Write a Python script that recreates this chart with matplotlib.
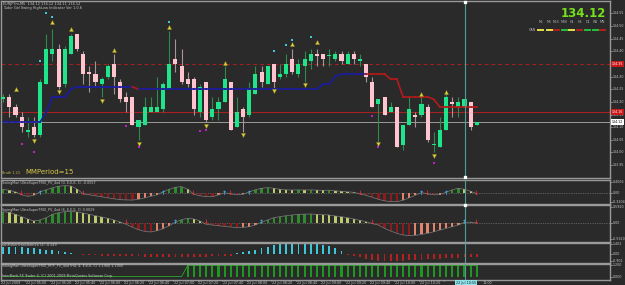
import matplotlib
matplotlib.use('Agg')
import matplotlib.pyplot as plt
import numpy as np

W, H = 625, 285
CHART_W = 610
bg = '#2a2a2a'
frame = '#9a9a9a'
txt = '#c8c8c8'

# EURJPYm M5 candles, 22 Jul 2009 04:40 - 11:05
opens = [134.21, 134.22, 134.18, 134.14, 134.08, 134.10, 134.07, 134.27, 134.39, 134.41,
         134.27, 134.39, 134.47, 134.39, 134.32, 134.31, 134.27, 134.30, 134.35, 134.28,
         134.22, 134.22, 134.10, 134.11, 134.16, 134.16, 134.17, 134.25, 134.37, 134.34,
         134.29, 134.29, 134.16, 134.28, 134.14, 134.17, 134.20, 134.28, 134.10, 134.17,
         134.15, 134.23, 134.32, 134.27, 134.35, 134.30, 134.31, 134.37, 134.31, 134.34,
         134.36, 134.39, 134.39, 134.38, 134.37, 134.39, 134.35, 134.39, 134.36, 134.35,
         134.28, 134.19, 134.22, 134.16, 134.18, 134.03, 134.11, 134.15, 134.15, 134.18,
         134.03, 134.02, 134.09, 134.20, 134.18, 134.18, 134.20, 134.11]
highs = [134.23, 134.23, 134.19, 134.16, 134.14, 134.14, 134.29, 134.47, 134.49, 134.43,
         134.42, 134.47, 134.47, 134.40, 134.34, 134.36, 134.30, 134.35, 134.39, 134.29,
         134.24, 134.22, 134.13, 134.22, 134.22, 134.30, 134.28, 134.48, 134.45, 134.41,
         134.32, 134.30, 134.27, 134.28, 134.22, 134.22, 134.34, 134.28, 134.22, 134.18,
         134.28, 134.34, 134.34, 134.34, 134.35, 134.35, 134.39, 134.41, 134.37, 134.40,
         134.41, 134.41, 134.39, 134.41, 134.40, 134.40, 134.40, 134.40, 134.39, 134.35,
         134.30, 134.21, 134.22, 134.20, 134.18, 134.11, 134.22, 134.16, 134.22, 134.19,
         134.08, 134.14, 134.23, 134.22, 134.22, 134.21, 134.20, 134.12]
lows = [134.20, 134.14, 134.14, 134.08, 134.06, 134.06, 134.06, 134.27, 134.36, 134.25,
        134.26, 134.39, 134.40, 134.27, 134.24, 134.26, 134.22, 134.29, 134.23, 134.20,
        134.16, 134.11, 134.05, 134.11, 134.16, 134.16, 134.16, 134.25, 134.32, 134.27,
        134.26, 134.15, 134.14, 134.12, 134.13, 134.13, 134.20, 134.09, 134.10, 134.08,
        134.14, 134.23, 134.26, 134.27, 134.25, 134.29, 134.30, 134.31, 134.30, 134.28,
        134.33, 134.34, 134.34, 134.34, 134.36, 134.35, 134.35, 134.35, 134.34, 134.28,
        134.18, 134.04, 134.15, 134.16, 134.02, 134.01, 134.11, 134.10, 134.14, 134.04,
        134.00, 134.02, 134.09, 134.14, 134.14, 134.18, 134.09, 134.11]
closes = [134.22, 134.18, 134.15, 134.10, 134.09, 134.07, 134.28, 134.41, 134.41, 134.26,
          134.41, 134.46, 134.41, 134.31, 134.31, 134.28, 134.29, 134.34, 134.30, 134.21,
          134.20, 134.11, 134.13, 134.18, 134.18, 134.18, 134.27, 134.35, 134.35, 134.28,
          134.27, 134.17, 134.26, 134.13, 134.17, 134.20, 134.29, 134.09, 134.16, 134.14,
          134.25, 134.31, 134.28, 134.34, 134.28, 134.31, 134.35, 134.32, 134.35, 134.37,
          134.39, 134.38, 134.37, 134.38, 134.39, 134.36, 134.39, 134.37, 134.37, 134.30,
          134.18, 134.21, 134.15, 134.18, 134.02, 134.11, 134.17, 134.14, 134.19, 134.05,
          134.03, 134.09, 134.22, 134.19, 134.20, 134.21, 134.10, 134.12]

# swing high/low trailing line
trail = [134.12] * 7 + [134.16] + [134.22] * 3 + [134.25] + [134.26] * 10 + [134.25] * 30 + \
        [134.27, 134.27, 134.30] + [134.31] * 8 + [134.29] * 2 + [134.22] * 5 + [134.21] + [134.18] * 7
trail_down = [0] * 22 + [1] + [0] * 37 + [1] * 18

# markers: (bar index 1-based, price)
up_arrow_bars = [3, 9, 12, 19, 28, 37, 48, 52, 69, 73]
up_arrow_px = [134.25, 134.515, 134.49, 134.405, 134.495, 134.355, 134.43, 134.435, 134.23, 134.24]
dn_arrow_bars = [6, 10, 17, 23, 34, 40, 45, 50, 62, 71]
dn_arrow_px = [134.045, 134.24, 134.205, 134.035, 134.105, 134.07, 134.245, 134.265, 134.035, 133.985]
cyan_bars = [7, 8, 9, 28, 45, 47, 48, 51]
cyan_px = [134.36, 134.55, 134.535, 134.515, 134.40, 134.425, 134.445, 134.455]
mag_bars = [4, 6, 21, 23, 33, 34, 61, 62, 71]
mag_px = [134.035, 134.00, 134.105, 134.02, 134.085, 134.09, 134.145, 134.02, 133.96]

bid = 134.12
level_red = 134.16
level_dash = 134.35
price_ticks = [134.55, 134.50, 134.45, 134.40, 134.30, 134.25, 134.20, 134.15, 134.10, 134.05, 134.00, 133.95]

tf_names = ['M1', 'M5', 'M15', 'M30', 'H1', 'H4', 'D1', 'W1', 'MN']
can_state = ['y', 'y', 'r', 'g', 'y', 'r', 'g', 'g', 'r']

trix_fast = [0.148, 0.111, 0.056, -0.056, -0.111, -0.074, 0.056, 0.130, 0.204, 0.259,
             0.285, 0.270, 0.160, -0.019, -0.056, -0.093, -0.130, -0.167, -0.204, -0.233,
             -0.245, -0.250, -0.222, -0.167, -0.111, -0.056, 0.056, 0.148, 0.222, 0.248,
             0.148, -0.037, -0.093, -0.122, -0.126, -0.056, 0.019, -0.019, -0.056, -0.037,
             0.056, 0.130, 0.185, 0.211, 0.185, 0.148, 0.130, 0.122, 0.126, 0.122,
             0.126, 0.118, 0.111, 0.115, 0.093, 0.074, 0.056, 0.037, -0.019, -0.074,
             -0.148, -0.222, -0.278, -0.307, -0.311, -0.259, -0.167, -0.074, 0.026, -0.019,
             -0.056, -0.044, 0.037, 0.130, 0.185, 0.148, 0.074, -0.019]
trix_slow = [0.407, 0.381, 0.307, 0.222, 0.137, 0.063, 0.100, 0.185, 0.307, 0.370,
             0.407, 0.414, 0.396, 0.359, 0.307, 0.259, 0.211, 0.159, 0.100, 0.026,
             -0.063, -0.167, -0.259, -0.322, -0.344, -0.296, -0.222, -0.111, 0.019, 0.111,
             0.159, 0.137, 0.063, -0.063, -0.085, -0.111, -0.137, -0.159, -0.185, -0.174,
             -0.148, -0.085, 0.019, 0.100, 0.185, 0.222, 0.259, 0.285, 0.307, 0.315,
             0.322, 0.307, 0.296, 0.285, 0.248, 0.222, 0.185, 0.137, 0.085, 0.037,
             -0.037, -0.085, -0.211, -0.307, -0.396, -0.455, -0.481, -0.470, -0.433, -0.396,
             -0.333, -0.270, -0.211, -0.148, -0.085, 0.011, 0.019, -0.011]
fisher = [1.08, 1.08, 1.02, 0.98, 0.94, 0.84, 0.74, 0.66, 0.56, 0.42,
          0.28, 0.18, 0.10, -0.10, -0.11, -0.14, -0.17, -0.18, -0.21, -0.24,
          -0.25, -0.28, -0.28, -0.31, -0.32, -0.32, -0.32, -0.35, -0.35, -0.35,
          -0.35, -0.32, -0.32, -0.31, -0.28, -0.25, -0.21, -0.17, 0.14, 0.28,
          0.46, 0.60, 0.84, 1.08, 1.26, 1.40, 1.50, 1.54, 1.58, 1.58,
          1.54, 1.44, 1.30, 1.12, 0.84, 0.46, -0.10, -0.21, -0.42, -0.70,
          -0.84, -0.91, -0.94, -0.94, -0.91, -0.88, -0.84, -0.80, -0.74, -0.70,
          -0.66, -0.60, -0.56, -0.52, -0.46, -0.42, -0.38, -0.35]
trix_mtf = [0.0] * 30 + [1.2] * 48

time_labels = ['22 Jul 2009', '22 Jul 05:00', '22 Jul 05:20', '22 Jul 05:40', '22 Jul 06:00',
               '22 Jul 06:20', '22 Jul 06:40', '22 Jul 07:00', '22 Jul 07:20', '22 Jul 07:40',
               '22 Jul 08:00', '22 Jul 08:20', '22 Jul 08:40', '22 Jul 09:00', '22 Jul 09:20',
               '22 Jul 09:40', '22 Jul 10:00', '22 Jul 10:20', '22 Jul 10:40', '22 Jul 11:00']
cursor_bar = 75
cursor_label = '22 Jul 10:55'

x = np.arange(len(opens))
fig = plt.figure(figsize=(W / 100, H / 100), dpi=100, facecolor=bg)


def ftext(px, py, s, **kw):
    return fig.text(px / W, 1 - py / H, s, **kw)


def panel(top, bottom, ylim):
    ax = fig.add_axes([0.5 / W, 1 - bottom / H, (CHART_W - 0.5) / W, (bottom - top) / H])
    ax.set_facecolor(bg)
    ax.set_xlim(-0.44, 98.65)
    ax.set_ylim(*ylim)
    ax.set_xticks([])
    ax.set_yticks([])
    for s in ax.spines.values():
        s.set_color(frame)
        s.set_linewidth(1.0)
    ax.axvline(cursor_bar, color='#4f9d94', lw=0.8, zorder=6)
    return ax


def right_label(ax, val, s, **kw):
    tr = ax.get_yaxis_transform()
    ax.plot([1.0, 1.003], [val, val], color=txt, lw=0.4, transform=tr, clip_on=False)
    kw.setdefault('color', txt)
    ax.text(1.004, val, s, transform=tr, fontsize=2.3, va='center', ha='left', **kw)


# ---- main price chart
ax = panel(0.5, 178, (133.899, 134.601))
o, h, l, c = map(np.array, (opens, highs, lows, closes))
bull = c >= o
ax.axhline(level_dash, color='#a82020', lw=0.7, ls=(0, (4, 3)), zorder=1)
ax.axhline(level_red, color='#a82020', lw=0.8, zorder=1)
ax.axhline(bid, color='#9a9a9a', lw=0.7, zorder=1)
ax.vlines(x[bull], l[bull], h[bull], color='#2f8a4e', lw=0.8, zorder=2)
ax.vlines(x[~bull], l[~bull], h[~bull], color='#a89496', lw=0.8, zorder=2)
blo = np.minimum(o, c)
bh = np.maximum(np.abs(c - o), 0.004)
ax.bar(x[bull], bh[bull], 0.66, bottom=blo[bull], color='#1fe48a', lw=0, zorder=3)
ax.bar(x[~bull], bh[~bull], 0.66, bottom=blo[~bull], color='#ffc4cd', lw=0, zorder=3)

for i in range(len(trail) - 1):
    col = '#b41a1a' if trail_down[i + 1] else '#1c1ca0'
    ax.plot([i, i + 1], [trail[i], trail[i + 1]], color=col, lw=1.2, zorder=4)

ax.scatter(np.array(up_arrow_bars) - 1, up_arrow_px, marker='^', s=10, color='#e0d240', edgecolor='#6a6420', lw=0.3, zorder=5)
ax.scatter(np.array(dn_arrow_bars) - 1, dn_arrow_px, marker='v', s=10, color='#e0d240', edgecolor='#6a6420', lw=0.3, zorder=5)
ax.scatter(np.array(cyan_bars) - 1, cyan_px, marker='s', s=3.5, color='#3ec8d8', lw=0, zorder=5)
ax.scatter(np.array(mag_bars) - 1, mag_px, marker='s', s=3.5, color='#c020c8', lw=0, zorder=5)
ax.plot([cursor_bar], [134.595], marker='s', ms=1.6, color='white', zorder=7, clip_on=False)
ax.plot([cursor_bar], [133.902], marker='s', ms=1.6, color='white', zorder=7, clip_on=False)

for p in price_ticks:
    right_label(ax, p, '%.2f' % p)
tr = ax.get_yaxis_transform()
ax.text(1.003, level_dash, '%.2f' % level_dash, transform=tr, fontsize=2.3, va='center', color='white',
        bbox=dict(facecolor='#c81a1a', edgecolor='none', pad=0.8))
ax.text(1.003, level_red, '%.2f' % level_red, transform=tr, fontsize=2.3, va='center', color='white',
        bbox=dict(facecolor='#c81a1a', edgecolor='none', pad=0.8))
ax.text(1.003, bid, '%.2f' % bid, transform=tr, fontsize=2.3, va='center', color='black',
        bbox=dict(facecolor='white', edgecolor='none', pad=0.8))

ftext(3, 3.5, 'EURJPYm,M5  134.12 134.12 134.11 134.12', fontsize=2.5, color=txt, va='center')
ftext(3, 7.5, 'Tudor Gel Swing HighLow Indicator Ver 1.0.6', fontsize=2.5, color=txt, va='center')
ftext(606, 13.5, '134.12', fontsize=8.5, fontweight='bold', color='#74e01e', ha='right', va='center')
dash_x = [540.8, 549.2, 556.5, 564.2, 571.8, 579.8, 587.5, 595.2, 602.5]
dash_col = {'y': '#e8e04c', 'r': '#b41e1e', 'g': '#22c040'}
for px, name, st in zip(dash_x, tf_names, can_state):
    ftext(px, 22, name, fontsize=2.3, color='#b8b8b8', ha='center', va='center')
    fig.add_artist(plt.Line2D([(px - 2.5) / W, (px + 2.5) / W], [1 - 30 / H, 1 - 30 / H],
                              color=dash_col[st], lw=1.4))
ftext(529, 30, 'CAN', fontsize=2.4, color='#b8b8b8', va='center')
ftext(2, 173, 'Bruth 1.23', fontsize=2.4, color='#c8b848', va='center')
ftext(25, 172, 'MMPeriod=15', fontsize=5, color='#d6c64a', va='center')


def trix_panel(top, bottom, ylim, vals, name, labels):
    a = panel(top, bottom, ylim)
    cols = []
    for i, v in enumerate(vals):
        prev = vals[i - 1] if i else v
        if v >= 0:
            cols.append('#2e8c2a' if v >= prev else '#bccb6e')
        else:
            cols.append('#8c1c1c' if v <= prev else '#e2836c')
    a.bar(x, vals, 0.38, color=cols, lw=0, zorder=2)
    a.plot(x, vals, color='#7c7c7c', lw=0.5, zorder=3)
    a.axhline(0, color='#8a8a8a', lw=0.5, ls=(0, (1, 1.5)), zorder=1)
    for i in range(1, len(vals)):
        if vals[i] > 0 >= vals[i - 1]:
            a.text(i, 0, '\u2191', color='#3fa9f0', fontsize=4.5, fontweight='bold', ha='center', va='center', zorder=5)
        elif vals[i] < 0 <= vals[i - 1]:
            a.text(i, 0, '\u2193', color='#e8323c', fontsize=4.5, fontweight='bold', ha='center', va='center', zorder=5)
    for v, s in labels:
        right_label(a, v, s)
    a.text(0.003, 0.86, name, transform=a.transAxes, fontsize=2.4, color=txt, va='center')
    return a


ax1 = trix_panel(179.5, 203.5, (-0.377, 0.511), trix_fast,
                 'SwingMan UltraSuperTRIX_PV_4xd (0, E,E,E, C) -0.0557',
                 [(0.4066, '0.4066'), (0.0, '0.00'), (-0.3204, '-0.3204')])
ax2 = trix_panel(204.5, 241.5, (-0.696, 0.673), trix_slow,
                 'SwingMan UltraSuperTRIX_PV_4xd (8, E,E,E, C) 0.0029',
                 [(0.592, '0.5920'), (0.0, '0.00'), (-0.592, '-0.5920')])
ax2.plot([cursor_bar], [0.673], marker='s', ms=1.6, color='white', zorder=7, clip_on=False)

ax3 = panel(242.5, 263, (-1.218, 1.652))
fcol = ['#3cc8dc' if v > 0 else '#b42020' for v in fisher]
ax3.bar(x, fisher, 0.3, color=fcol, lw=0)
ax3.text(0.003, 0.86, 'ssnFisherTransform2a (2) -0.249', transform=ax3.transAxes, fontsize=2.4, color=txt, va='center')
for v, s in [(1.402, '1.402'), (0.0, '0.00'), (-0.901, '-0.901')]:
    right_label(ax3, v, s)

ax4 = panel(264, 279.5, (-0.327, 1.363))
ax4.bar(x, trix_mtf, 0.34, color='#1f961f', lw=0)
ax4.plot(x, trix_mtf, color='#27a827', lw=0.6)
ax4.text(0.003, 0.84, 'SwingMan UltraSuperTRIX_MTF_PV_4xd (H4, 4, E,E,E, C) 1.1900 1.1900',
         transform=ax4.transAxes, fontsize=2.4, color=txt, va='center')
ax4.text(0.003, 0.25, 'InterBank FX Trader 4, (C) 2001-2009 MetaQuotes Software Corp.',
         transform=ax4.transAxes, fontsize=2.4, color=txt, va='center')
for v, s in [(1.2, '1.200'), (0.0, '0.000')]:
    right_label(ax4, v, s)

# time scale; the cursor time box hides the labels underneath it
xtr = ax4.get_xaxis_transform()
for k, s in enumerate(time_labels):
    pos = 4 * k
    ax4.plot([pos - 0.4, pos - 0.4], [0, -0.08], color=txt, lw=0.4, transform=xtr, clip_on=False)
    if cursor_bar - 4 < pos <= cursor_bar:
        continue
    if cursor_bar < pos < cursor_bar + 4:
        ax4.text(cursor_bar + 2.9, -0.2, s.split()[-1], transform=xtr, fontsize=2.4, color=txt, va='center', ha='left')
        continue
    ax4.text(pos - 0.3, -0.2, s, transform=xtr, fontsize=2.4, color=txt, va='center', ha='left')
ax4.text(cursor_bar + 0.2, -0.2, cursor_label, transform=xtr, fontsize=2.4, color='#1a1a1a', va='center',
         ha='center', zorder=8, bbox=dict(facecolor='#8fe3ea', edgecolor='none', pad=0.8))

fig.savefig('out.png', dpi=100, facecolor=bg)
